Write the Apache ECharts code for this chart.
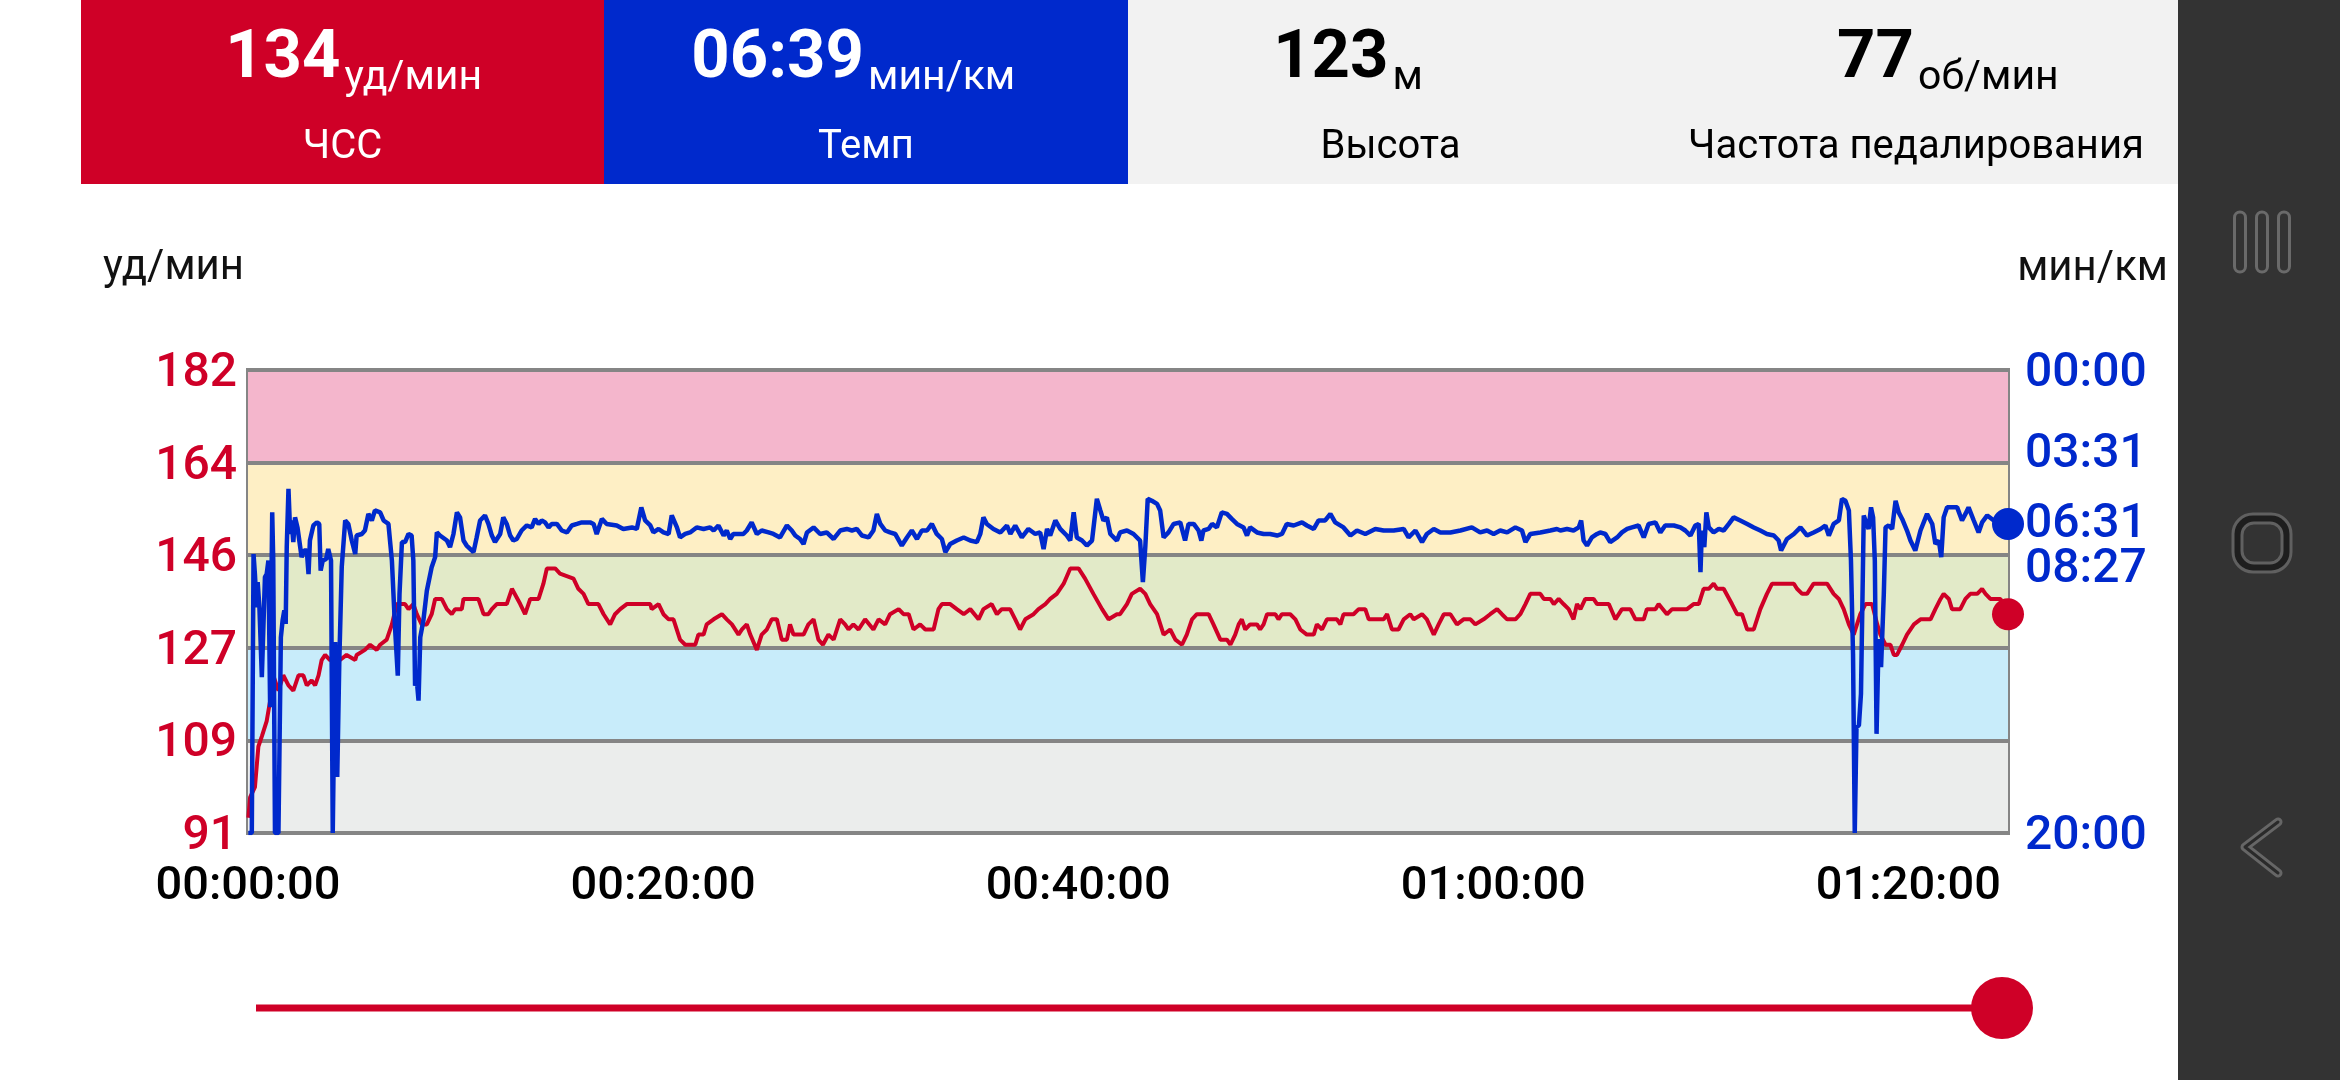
<!DOCTYPE html>
<html>
<head>
<meta charset="utf-8">
<script src="https://cdn.jsdelivr.net/npm/echarts@6/dist/echarts.min.js"></script>
<style>
html,body{margin:0;padding:0;background:#ffffff;}
#c{width:2340px;height:1080px;}
</style>
</head>
<body>
<div id="c"></div>
<script>
// ---- data ----
const headerValues = ['134', '06:39', '123', '77'];
const headerUnits = ['уд/мин', 'мин/км', 'м', 'об/мин'];
const headerLabels = ['ЧСС', 'Темп', 'Высота', 'Частота педалирования'];

const hrAxisMin = 91, hrAxisMax = 182, hrAxisStep = 18.2;   // labels 91,109,127,146,164,182
const paceTicks = [0, 211, 391, 507, 1200];                  // seconds per km
const timeTicks = [0, 1200, 2400, 3600, 4800];               // seconds
const timeMax = 5088;

const currentHr = 134;
const currentPace = 399;

// [seconds, bpm]
const hrSeries = [
[1,94],[6,98],[20,100],[25,104],[30,108],[40,110],[54,113],[64,117],[73,122],[88,119],[102,122],[117,120],[131,119],[146,122],[160,122],[170,120],[184,121],[194,120],[204,122],[213,125],[223,126],[237,125],[266,125],[285,126],[310,125],[314,126],[338,127],[353,128],[372,127],[382,128],[401,129],[416,132],[430,136],[454,136],[464,135],[478,136],[488,134],[502,132],[517,132],[531,134],[541,137],[560,137],[575,135],[589,134],[599,135],[618,135],[623,137],[666,137],[681,134],[695,134],[705,135],[719,136],[748,136],[763,139],[787,136],[801,134],[816,137],[840,137],[854,140],[864,143],[888,143],[902,142],[941,141],[955,139],[970,138],[984,136],[1013,136],[1028,134],[1047,132],[1061,134],[1076,135],[1095,136],[1163,136],[1167,135],[1187,136],[1201,134],[1216,133],[1230,133],[1249,129],[1264,128],
[1293,128],[1302,130],[1317,130],[1326,132],[1346,133],[1370,134],[1384,133],[1399,132],[1418,130],[1428,131],[1442,132],[1452,130],[1471,127],[1485,130],[1500,131],[1514,133],[1529,133],[1543,129],[1558,129],[1567,132],[1577,130],[1606,130],[1620,132],[1635,133],[1649,129],[1662,128],[1678,130],[1693,129],[1712,133],[1726,132],[1736,131],[1750,132],[1765,131],[1784,133],[1808,131],[1823,133],[1842,132],[1856,134],[1881,135],[1895,134],[1910,134],[1924,131],[1943,132],[1958,131],[1982,131],[1996,135],[2006,136],[2030,136],[2049,135],[2069,134],[2088,135],[2112,133],[2126,135],[2150,136],[2165,134],[2179,135],[2203,135],[2218,133],[2232,131],[2247,133],[2271,134],[2285,135],[2305,136],[2319,137],[2338,138],[2358,140],[2377,143],[2401,143],[2420,141],[2444,138],[2469,135],[2488,133],[2512,134],
[2521,134],[2541,136],[2555,138],[2579,139],[2594,138],[2608,136],[2628,134],[2647,130],[2666,131],[2681,129],[2700,128],[2714,130],[2729,133],[2743,134],[2777,134],[2791,132],[2811,129],[2830,129],[2840,128],[2854,130],[2864,132],[2873,133],[2883,131],[2897,132],[2917,132],[2926,131],[2936,132],[2946,134],[2970,134],[2979,133],[2989,134],[3013,134],[3028,133],[3042,131],[3061,130],[3081,130],[3090,132],[3105,131],[3119,133],[3148,133],[3158,132],[3167,134],[3196,134],[3211,135],[3230,135],[3240,133],[3283,133],[3293,134],[3307,131],[3326,131],[3341,133],[3360,134],[3370,133],[3394,134],[3408,133],[3428,130],[3442,132],[3457,134],[3476,134],[3495,132],[3514,133],[3534,133],[3548,132],[3572,133],[3591,134],[3611,135],[3625,134],[3640,133],[3664,133],[3678,134],[3693,136],[3707,138],[3736,138],[3746,137],[3765,137],[3775,136],[3789,137],
[3803,136],[3818,135],[3832,133],[3842,136],[3852,135],[3866,137],[3890,137],[3900,136],[3934,136],[3953,133],[3972,135],[3996,135],[4011,133],[4035,133],[4044,135],[4069,135],[4078,136],[4102,134],[4117,135],[4160,135],[4179,136],[4194,136],[4208,139],[4223,139],[4237,140],[4247,139],[4266,139],[4290,136],[4305,134],[4319,134],[4334,131],[4353,131],[4372,135],[4391,138],[4406,140],[4469,140],[4478,139],[4493,138],[4507,138],[4526,140],[4565,140],[4584,138],[4599,137],[4613,135],[4628,132],[4642,130],[4661,134],[4676,136],[4695,136],[4710,132],[4719,130],[4734,128],[4748,128],[4758,126],[4767,126],[4782,128],[4796,130],[4816,132],[4835,133],[4864,133],[4878,135],[4893,137],[4902,138],[4917,137],[4926,135],[4950,135],[4965,137],[4979,138],[4999,138],[5013,139],[5023,138],[5037,137],[5066,137],[5088,134]
];

// [seconds, pace in seconds per km]
const paceSeries = [
[1,1200],[11,1200],[16,477],[20,529],[25,615],[28,550],[33,615],[40,796],[45,800],[49,537],[54,529],[59,494],[64,874],[70,369],[73,494],[78,1200],[88,1200],[95,693],[100,649],[105,623],[109,658],[112,459],[117,308],[122,425],[126,390],[131,446],[136,382],[143,408],[155,485],[162,468],[170,468],[175,529],[179,442],[189,403],[199,395],[206,399],[210,520],[216,494],[226,490],[232,464],[240,494],[245,1200],[252,705],[258,1055],[264,753],[271,511],[281,390],[290,399],[300,442],[310,477],[314,429],[329,425],[338,416],[348,373],[358,390],[367,364],[382,369],[392,390],[406,399],[416,494],[425,667],[433,792],[438,580],[445,446],[454,446],[464,425],[473,429],[478,494],[483,818],[488,805],[493,857],[498,693],[507,649],[517,572],[531,511],[541,485],[546,421],[555,429],[575,442],[584,459],[594,425],[604,369],[613,382],[623,442],[632,455],[652,472],[661,434],[671,390],[685,377],[695,399],[705,429],[714,446],[729,425],[738,382],[748,399],[758,429],[767,442],[777,438],[791,416],[806,403],[820,408],[830,386],[840,399],[849,390],[859,395],[869,408],[878,399],[893,399],[907,416],[922,421],[936,403],[951,399],[965,395],[989,395],[999,399],[1008,425],[1023,386],[1037,399],[1066,403],[1085,412],[1110,408],[1124,412],[1137,356],[1148,390],[1163,403],[1172,421],[1187,412],[1201,421],[1216,425],[1225,377],[1240,408],[1249,434],[1264,425],[1278,421],
[1283,416],[1297,408],[1317,412],[1336,408],[1346,416],[1360,403],[1375,429],[1384,416],[1394,438],[1403,425],[1432,425],[1442,416],[1456,395],[1471,425],[1485,416],[1505,421],[1519,425],[1538,434],[1558,403],[1572,416],[1582,429],[1596,438],[1606,451],[1616,421],[1635,408],[1654,425],[1673,421],[1693,438],[1712,416],[1731,412],[1746,416],[1760,412],[1775,429],[1794,434],[1808,416],[1818,373],[1828,399],[1842,416],[1856,421],[1871,425],[1890,455],[1905,434],[1919,416],[1934,438],[1948,416],[1963,416],[1977,399],[1991,425],[2006,438],[2016,472],[2030,451],[2049,442],[2069,434],[2088,442],[2107,446],[2117,425],[2126,382],[2136,399],[2155,412],[2175,421],[2194,403],[2204,425],[2218,403],[2237,434],[2256,412],[2276,425],[2290,421],[2300,464],[2310,412],[2319,429],[2334,390],[2348,412],[2367,429],[2377,442],[2387,369],[2396,434],[2411,442],[2425,455],[2440,442],[2454,334],[2464,364],[2473,390],[2483,382],[2493,425],[2512,442],
[2521,421],[2541,416],[2560,425],[2579,442],[2587,550],[2594,459],[2601,334],[2613,339],[2628,347],[2637,364],[2647,434],[2661,421],[2676,399],[2695,395],[2709,442],[2719,399],[2734,399],[2748,416],[2756,442],[2762,416],[2777,412],[2787,399],[2801,408],[2815,369],[2830,373],[2844,386],[2859,399],[2878,408],[2888,429],[2897,408],[2917,421],[2936,425],[2955,425],[2975,429],[2989,425],[3003,399],[3023,403],[3047,395],[3061,403],[3081,412],[3095,390],[3114,390],[3129,373],[3143,395],[3167,408],[3187,429],[3206,416],[3230,425],[3259,412],[3283,416],[3312,416],[3341,412],[3355,434],[3375,416],[3394,446],[3408,425],[3428,412],[3447,421],[3476,421],[3505,416],[3538,408],[3562,421],[3582,416],[3601,425],[3620,416],[3640,421],[3664,408],[3683,416],[3693,446],[3707,425],[3736,421],[3765,416],[3784,412],
[3794,416],[3813,412],[3832,416],[3847,408],[3854,390],[3861,442],[3871,455],[3885,434],[3900,425],[3909,421],[3924,425],[3938,446],[3958,434],[3972,421],[3987,412],[4001,408],[4020,403],[4035,434],[4049,399],[4069,395],[4083,421],[4097,403],[4122,403],[4141,408],[4155,416],[4170,429],[4184,403],[4194,399],[4199,524],[4203,416],[4210,459],[4216,369],[4223,408],[4237,421],[4252,412],[4266,416],[4281,399],[4295,382],[4314,390],[4334,399],[4353,408],[4372,416],[4391,425],[4411,429],[4425,442],[4432,468],[4449,438],[4469,425],[4488,408],[4507,429],[4526,421],[4546,412],[4560,403],[4570,429],[4584,399],[4599,390],[4608,334],[4618,339],[4628,364],[4634,494],[4640,736],[4645,1200],[4650,926],[4657,921],[4663,839],[4671,377],[4676,390],[4685,412],[4692,356],[4698,382],[4703,494],[4708,943],[4714,697],[4721,770],[4729,580],[4734,408],[4743,403],[4753,412],[4763,339],[4772,369],[4782,386],[4796,416],[4806,442],[4820,468],[4835,416],[4854,373],[4869,399],[4878,451],[4888,442],[4895,485],[4902,382],[4912,356],[4926,356],[4941,356],[4955,390],[4965,373],[4974,356],[4989,390],[5003,421],[5013,395],[5028,377],[5047,390],[5066,382],[5088,399]
];

// ---- styling ----
const RED = '#cf0027';
const BLUE = '#0029cc';
const GRID = '#858585';
const FONT = 'Roboto';
const bandColors = ['#ebedec', '#c8ecfa', '#e2eac8', '#feefc5', '#f4b6cc'];

function pad(n){ return (n < 10 ? '0' : '') + n; }
function fmtPace(v){ v = Math.round(v); return pad(Math.floor(v / 60)) + ':' + pad(v % 60); }
function fmtTime(v){ v = Math.round(v); return pad(Math.floor(v / 3600)) + ':' + pad(Math.floor((v % 3600) / 60)) + ':' + pad(v % 60); }
function richLabel(color, size){
  return {v: {color: color, fontSize: size, fontWeight: 500, fontFamily: FONT, padding: [8, 0, 0, 0]}};
}

// header graphics
const cells = [
  {x: 81, w: 523, fill: RED, color: '#ffffff'},
  {x: 604, w: 524, fill: BLUE, color: '#ffffff'},
  {x: 1128, w: 525, fill: null, color: '#000000'},
  {x: 1653, w: 526, fill: null, color: '#000000'}
];
const graphics = [
  {type: 'rect', shape: {x: 1128, y: 0, width: 1051, height: 184}, style: {fill: '#f2f2f2'}, z: 0},
  {type: 'rect', shape: {x: 2178, y: 0, width: 162, height: 1080}, style: {fill: '#333333'}, z: 0}
];
cells.forEach((c, i) => {
  if (c.fill) graphics.push({type: 'rect', shape: {x: c.x, y: 0, width: c.w, height: 184}, style: {fill: c.fill}, z: 0});
  const cx = c.x + c.w / 2;
  graphics.push({type: 'text', x: cx - 2, y: 60, z: 1,
    style: {text: headerValues[i], fill: c.color, fontSize: 67, fontWeight: 'bold', fontFamily: FONT,
      align: 'right', verticalAlign: 'middle', textAlign: 'right', textVerticalAlign: 'middle'}});
  graphics.push({type: 'text', x: cx + 2, y: 79, z: 1,
    style: {text: headerUnits[i], fill: c.color, fontSize: 41, fontFamily: FONT,
      align: 'left', verticalAlign: 'middle', textAlign: 'left', textVerticalAlign: 'middle'}});
  graphics.push({type: 'text', x: cx, y: 148, z: 1,
    style: {text: headerLabels[i], fill: c.color, fontSize: 40, fontFamily: FONT,
      align: 'center', verticalAlign: 'middle', textAlign: 'center', textVerticalAlign: 'middle'}});
});
// axis unit labels
graphics.push({type: 'text', x: 103, y: 268, z: 1,
  style: {text: 'уд/мин', fill: '#111111', fontSize: 42, fontFamily: FONT,
    align: 'left', verticalAlign: 'middle', textAlign: 'left', textVerticalAlign: 'middle'}});
graphics.push({type: 'text', x: 2168, y: 269, z: 1,
  style: {text: 'мин/км', fill: '#111111', fontSize: 42, fontFamily: FONT,
    align: 'right', verticalAlign: 'middle', textAlign: 'right', textVerticalAlign: 'middle'}});
// slider
graphics.push({type: 'line', shape: {x1: 256, y1: 1008, x2: 2002, y2: 1008}, style: {stroke: RED, lineWidth: 7}, z: 1});
graphics.push({type: 'circle', shape: {cx: 2002, cy: 1008, r: 31}, style: {fill: RED}, z: 2});
// navigation icons
[2240, 2262, 2284].forEach(x => {
  graphics.push({type: 'rect', shape: {x: x - 5.5, y: 212, width: 11, height: 60, r: 5.5},
    style: {fill: 'none', stroke: '#6a6a6a', lineWidth: 3}, z: 1});
});
graphics.push({type: 'rect', shape: {x: 2233, y: 514, width: 58, height: 58, r: 20},
  style: {fill: '#1e1e1e', stroke: '#606060', lineWidth: 3}, z: 1});
graphics.push({type: 'rect', shape: {x: 2242, y: 523, width: 40, height: 40, r: 12},
  style: {fill: '#333333', stroke: '#606060', lineWidth: 3}, z: 2});
graphics.push({type: 'polyline', shape: {points: [[2278, 822], [2245, 847], [2278, 873]]},
  style: {fill: 'none', stroke: '#666666', lineWidth: 9, lineCap: 'round', lineJoin: 'round'}, z: 1});
graphics.push({type: 'polyline', shape: {points: [[2278, 822], [2245, 847], [2278, 873]]},
  style: {fill: 'none', stroke: '#2a2a2a', lineWidth: 3, lineCap: 'round', lineJoin: 'round'}, z: 2});

const chart = echarts.init(document.getElementById('c'), null, {renderer: 'canvas'});
chart.setOption({
  backgroundColor: '#ffffff',
  animation: false,
  grid: {left: 248, top: 370, width: 1760, height: 463, show: true, borderColor: GRID, borderWidth: 4, backgroundColor: 'transparent'},
  xAxis: {
    type: 'value', min: 0, max: timeMax, interval: 1200,
    axisLine: {show: false}, axisTick: {show: false}, splitLine: {show: false},
    axisLabel: {customValues: timeTicks, formatter: v => '{v|' + fmtTime(v) + '}', rich: richLabel('#000000', 47),
      color: '#000000', fontSize: 47, fontFamily: FONT, margin: 50, verticalAlign: 'middle'}
  },
  yAxis: [
    {
      type: 'value', min: hrAxisMin, max: hrAxisMax, interval: hrAxisStep, position: 'left',
      axisLine: {show: false}, axisTick: {show: false},
      splitLine: {show: true, lineStyle: {color: GRID, width: 4}},
      splitArea: {show: true, areaStyle: {color: bandColors}},
      axisLabel: {formatter: v => '{v|' + Math.round(v) + '}', rich: richLabel(RED, 48),
        color: RED, fontSize: 48, fontFamily: FONT, margin: 11}
    },
    {
      type: 'value', min: 0, max: 1200, inverse: true, position: 'right',
      axisLine: {show: false}, axisTick: {show: false}, splitLine: {show: false}, splitArea: {show: false},
      axisLabel: {customValues: paceTicks, formatter: v => '{v|' + fmtPace(v) + '}', rich: richLabel(BLUE, 48),
        color: BLUE, fontSize: 48, fontFamily: FONT, margin: 17, align: 'left'}
    }
  ],
  series: [
    {type: 'line', name: 'ЧСС', xAxisIndex: 0, yAxisIndex: 0, data: hrSeries, showSymbol: false, symbol: 'none',
      lineStyle: {color: RED, width: 4}, itemStyle: {color: RED}, z: 3},
    {type: 'line', name: 'Темп', xAxisIndex: 0, yAxisIndex: 1, data: paceSeries, showSymbol: false, symbol: 'none',
      lineStyle: {color: BLUE, width: 4.5}, itemStyle: {color: BLUE}, z: 4},
    {type: 'scatter', xAxisIndex: 0, yAxisIndex: 0, data: [[timeMax, currentHr]], symbolSize: 32, clip: false,
      itemStyle: {color: RED, opacity: 1}, z: 5},
    {type: 'scatter', xAxisIndex: 0, yAxisIndex: 1, data: [[timeMax, currentPace]], symbolSize: 32, clip: false,
      itemStyle: {color: BLUE, opacity: 1}, z: 5}
  ],
  graphic: graphics
});
</script>
</body>
</html>
